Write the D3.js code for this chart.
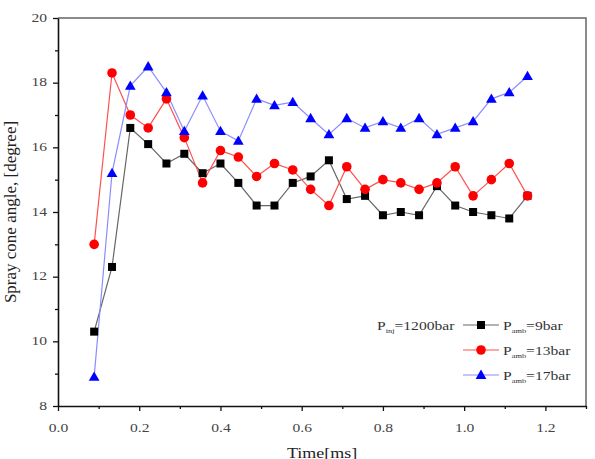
<!DOCTYPE html>
<html>
<head>
<meta charset="utf-8">
<script src="https://cdn.jsdelivr.net/npm/d3@7"></script>
<style>
  body { margin: 0; background: #fff; }
  svg text { font-family: "Liberation Serif", "Times New Roman", serif; }
</style>
</head>
<body>
<div id="chart"></div>
<script>
const width = 595;
const height = 459;
const margins = ({
    top: 18,
    right: 9,
    bottom: 53,
    left: 58
})
const stretch = 1.2  // the original picture is a bit wider than tall

// time [ms]
const times = [0.089, 0.133, 0.178, 0.222, 0.267, 0.311, 0.356, 0.400, 0.444, 0.489,
    0.533, 0.578, 0.622, 0.667, 0.711, 0.756, 0.800, 0.844, 0.889, 0.933,
    0.978, 1.022, 1.067, 1.111, 1.156]
// spray cone angle [degree]
const amb9 = [10.3, 12.3, 16.6, 16.1, 15.5, 15.8, 15.2, 15.5, 14.9, 14.2,
    14.2, 14.9, 15.1, 15.6, 14.4, 14.5, 13.9, 14.0, 13.9, 14.8,
    14.2, 14.0, 13.9, 13.8, 14.5]
const amb13 = [13.0, 18.3, 17.0, 16.6, 17.5, 16.3, 14.9, 15.9, 15.7, 15.1,
    15.5, 15.3, 14.7, 14.2, 15.4, 14.7, 15.0, 14.9, 14.7, 14.9,
    15.4, 14.5, 15.0, 15.5, 14.5]
const amb17 = [8.9, 15.2, 17.9, 18.5, 17.7, 16.5, 17.6, 16.5, 16.2, 17.5,
    17.3, 17.4, 16.9, 16.4, 16.9, 16.6, 16.8, 16.6, 16.9, 16.4,
    16.6, 16.8, 17.5, 17.7, 18.2]
const seriesNames = ["9", "13", "17"]
const xTicks = [0.0, 0.2, 0.4, 0.6, 0.8, 1.0, 1.2]
const yTicks = [8, 10, 12, 14, 16, 18, 20]

const series = [
    { name: seriesNames[0], values: amb9, marker: "square", fill: "#000", stroke: "#666" },
    { name: seriesNames[1], values: amb13, marker: "circle", fill: "#ff0000", stroke: "#ff5050" },
    { name: seriesNames[2], values: amb17, marker: "triangle", fill: "#0000ff", stroke: "#8c8cff" }
]

const serif = "'Liberation Serif', 'Times New Roman', serif"

const svg = d3.select("#chart")
    .append("svg")
    .attr("width", width)
    .attr("height", height)

const x = d3.scaleLinear().domain([0, 1.3]).range([margins.left, width - margins.right])
const y = d3.scaleLinear().domain([8, 20]).range([height - margins.bottom, margins.top])

// frame (top and right in gray)
svg.append("path")
    .attr("d", `M${x(0)},${y(20)}H${x(1.3)}V${y(8)}`)
    .attr("fill", "none")
    .attr("stroke", "#666")
    .attr("stroke-width", 1.5)

// axes
const xAxis = svg.append("g")
    .attr("transform", `translate(0,${y(8)})`)
    .call(d3.axisBottom(x).tickValues(xTicks).tickFormat(d3.format(".1f")).tickSize(5).tickSizeOuter(0))
svg.append("g")
    .attr("transform", `translate(0,${y(8)})`)
    .call(d3.axisBottom(x).tickValues(d3.range(0.1, 1.31, 0.2)).tickFormat("").tickSize(3).tickSizeOuter(0))
    .call(g => g.select(".domain").remove())
const yAxis = svg.append("g")
    .attr("transform", `translate(${x(0)},0)`)
    .call(d3.axisLeft(y).tickValues(yTicks).tickSize(5).tickSizeOuter(0))
svg.append("g")
    .attr("transform", `translate(${x(0)},0)`)
    .call(d3.axisLeft(y).tickValues(d3.range(9, 20, 2)).tickFormat("").tickSize(3).tickSizeOuter(0))
    .call(g => g.select(".domain").remove())

svg.selectAll(".domain").attr("stroke", "#111").attr("stroke-width", 1.6)
svg.selectAll(".tick line").attr("stroke", "#111").attr("stroke-width", 1.3)
svg.selectAll(".tick text")
    .style("font-family", serif)
    .style("font-size", "13px")
    .attr("fill", "#444")
xAxis.selectAll(".tick text")
    .attr("y", 0)
    .attr("dy", 0)
    .attr("transform", `translate(0,26) scale(${stretch},1)`)
yAxis.selectAll(".tick text")
    .attr("x", 0)
    .attr("dy", "0.32em")
    .attr("transform", `translate(-11,-1) scale(${stretch},1)`)

// axis titles
svg.append("text")
    .attr("transform", `translate(${(x(0) + x(1.3)) / 2},${height - 1}) scale(${stretch},1)`)
    .attr("text-anchor", "middle")
    .style("font-family", serif)
    .style("font-size", "15px")
    .attr("fill", "#222")
    .text("Time[ms]")
svg.append("text")
    .attr("transform", `translate(16,${(y(8) + y(20)) / 2}) rotate(-90)`)
    .attr("text-anchor", "middle")
    .style("font-family", serif)
    .style("font-size", "17px")
    .attr("fill", "#222")
    .text("Spray cone angle, [degree]")

function drawMarker(g, type, fill) {
    if (type == "square") {
        g.append("rect").attr("x", -4).attr("y", -4).attr("width", 8).attr("height", 8).attr("fill", fill)
    } else if (type == "circle") {
        g.append("circle").attr("r", 4.8).attr("fill", fill)
    } else {
        g.append("path").attr("d", d3.symbol(d3.symbolTriangle, 50)()).attr("transform", "translate(0,0.8)").attr("fill", fill)
    }
}

const line = d3.line()
    .x((d, i) => x(times[i]))
    .y(d => y(d))

series.forEach(s => {
    svg.append("path")
        .datum(s.values)
        .attr("d", line)
        .attr("fill", "none")
        .attr("stroke", s.stroke)
        .attr("stroke-width", 1.2)
})
series.forEach(s => {
    s.values.forEach((v, i) => {
        const g = svg.append("g").attr("transform", `translate(${x(times[i])},${y(v)})`)
        drawMarker(g, s.marker, s.fill)
    })
})

// legend
const legend = svg.append("g")

function legendLabel(lx, ly, sub, rest) {
    const t = legend.append("text")
        .attr("transform", `translate(${lx},${ly}) scale(${stretch},1)`)
        .style("font-family", serif)
        .style("font-size", "13px")
        .attr("fill", "#333")
    t.append("tspan").text("P")
    t.append("tspan").style("font-size", "7px").attr("dy", 3).text(sub)
    t.append("tspan").attr("dy", -3).text(rest)
}

legendLabel(377, 330, "inj", "=1200bar")

series.forEach((s, i) => {
    const ly = 325 + i * 25
    legend.append("line")
        .attr("x1", 463).attr("x2", 499)
        .attr("y1", ly).attr("y2", ly)
        .attr("stroke", s.stroke)
        .attr("stroke-width", 1.2)
    drawMarker(legend.append("g").attr("transform", `translate(481,${ly})`), s.marker, s.fill)
    legendLabel(503, ly + 5, "amb", `=${s.name}bar`)
})
</script>
</body>
</html>
